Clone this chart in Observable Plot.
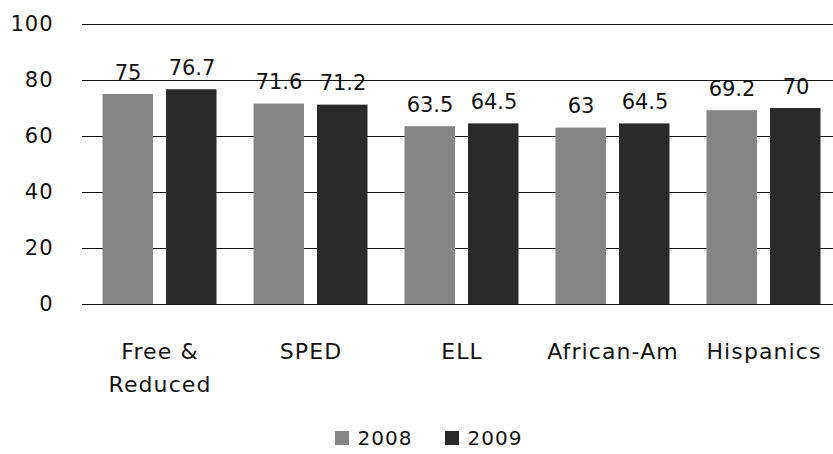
<!DOCTYPE html>
<html>
<head>
<meta charset="utf-8">
<script src="https://cdn.jsdelivr.net/npm/d3@7"></script>
<script src="https://cdn.jsdelivr.net/npm/@observablehq/plot@0.6"></script>
<style>
  body { margin: 0; background: #fff; font-family: "DejaVu Sans", sans-serif; }
  #legend { display: flex; justify-content: center; gap: 32px; font-size: 20px; letter-spacing: 1px; margin-top: 14px; margin-left: 24px; color: #111; }
  #legend span { display: inline-flex; align-items: center; }
  #legend i { display: inline-block; width: 14px; height: 14px; margin-right: 9px; }
</style>
</head>
<body>
<div id="chart"></div>
<div id="legend"></div>
<script>
const categories = ["Free &\nReduced", "SPED", "ELL", "African-Am", "Hispanics"];
const series = ["2008", "2009"];
const values2008 = [75, 71.6, 63.5, 63, 69.2];
const values2009 = [76.7, 71.2, 64.5, 64.5, 70];
const labels2008 = ["75", "71.6", "63.5", "63", "69.2"];
const labels2009 = ["76.7", "71.2", "64.5", "64.5", "70"];
const yTicks = [0, 20, 40, 60, 80, 100];
const colors = ["#858585", "#2a2a2a"];

const d08 = categories.map((c, i) => ({cat: c, v: values2008[i], label: labels2008[i]}));
const d09 = categories.map((c, i) => ({cat: c, v: values2009[i], label: labels2009[i]}));

const W = 833, H = 412;
const chart = Plot.plot({
  width: W,
  height: H,
  marginLeft: 82,
  marginRight: 0,
  marginTop: 24,
  marginBottom: 108,
  style: {fontFamily: "DejaVu Sans, sans-serif", fontSize: "20px", color: "#111", background: "#fff"},
  x: {domain: categories, range: [82, 840], padding: 0, label: null},
  y: {domain: [0, 100], label: null, ticks: yTicks},
  marks: [
    Plot.ruleY(yTicks, {stroke: "#111", strokeWidth: 1.1}),
    Plot.barY(d08, {x: "cat", y: "v", fill: colors[0], insetLeft: 18.5, insetRight: 82, ariaLabel: "bar2008"}),
    Plot.barY(d09, {x: "cat", y: "v", fill: colors[1], insetLeft: 82, insetRight: 18.5, ariaLabel: "bar2009"}),
    Plot.text(d08, {x: "cat", y: "v", text: "label", dx: -32, dy: -15, lineAnchor: "bottom", fontSize: 21, fill: "#111", letterSpacing: 1}),
    Plot.text(d09, {x: "cat", y: "v", text: "label", dx: 32, dy: -15, lineAnchor: "bottom", fontSize: 21, fill: "#111", letterSpacing: 1}),
    Plot.axisY({ticks: yTicks, tickSize: 0, tickPadding: 29, fill: "#111"}),
    Plot.axisX({tickSize: 0, tickPadding: 31, lineHeight: 1.5, fill: "#111"})
  ]
});

// styling: larger tick labels, speckled bar texture
const svg = d3.select(chart);
svg.selectAll('g[aria-label="y-axis tick label"]').attr("font-size", 21).attr("letter-spacing", 1);
svg.selectAll('g[aria-label="x-axis tick label"]').attr("font-size", 22).attr("letter-spacing", 1.1);

const defs = svg.insert("defs", ":first-child");
function speckle(id, bias) {
  const f = defs.append("filter").attr("id", id)
    .attr("filterUnits", "userSpaceOnUse").attr("x", 0).attr("y", 0).attr("width", W).attr("height", H)
    .attr("color-interpolation-filters", "sRGB");
  f.append("feTurbulence").attr("type", "fractalNoise").attr("baseFrequency", 0.95).attr("numOctaves", 2).attr("seed", 4).attr("result", "n");
  f.append("feColorMatrix").attr("in", "n").attr("type", "matrix")
    .attr("values", `8 0 0 0 ${bias}  8 0 0 0 ${bias}  8 0 0 0 ${bias}  0 0 0 0 1`).attr("result", "g");
  f.append("feComposite").attr("in", "g").attr("in2", "SourceGraphic").attr("operator", "in");
}
speckle("spk08", -3.5);
speckle("spk09", -4.6);
svg.select('g[aria-label="bar2008"]').attr("filter", "url(#spk08)");
svg.select('g[aria-label="bar2009"]').attr("filter", "url(#spk09)");

document.getElementById("chart").append(chart);

const legend = document.getElementById("legend");
series.forEach((s, i) => {
  const span = document.createElement("span");
  const sw = document.createElement("i");
  sw.style.background = colors[i];
  span.append(sw, document.createTextNode(s));
  legend.append(span);
});
</script>
</body>
</html>
